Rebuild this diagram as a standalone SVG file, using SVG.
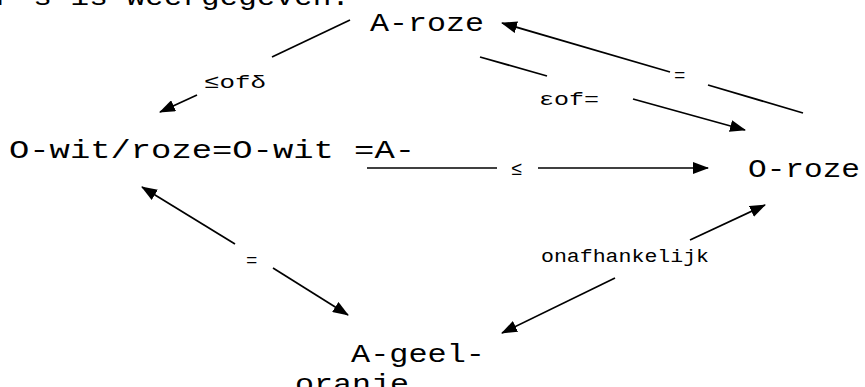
<svg xmlns="http://www.w3.org/2000/svg" width="865" height="387" viewBox="0 0 865 387">
<style>
.t{font-family:"Liberation Mono","Courier New",monospace;font-size:26px;fill:#000}
.s{font-family:"Liberation Mono","Courier New",monospace;font-size:19px;fill:#000}
.c line{stroke:#000;stroke-width:1.7}
</style>
<defs>
<marker id="ah" markerUnits="userSpaceOnUse" markerWidth="16" markerHeight="12" refX="15" refY="6" orient="auto">
<path d="M0,0 L16,6 L0,12 z" fill="#000"/>
</marker>
</defs>
<text class="t" x="-4" y="5" textLength="354" lengthAdjust="spacingAndGlyphs">P's is weergegeven.</text>
<g id="a-roze"><text class="t" x="370" y="31" textLength="114" lengthAdjust="spacingAndGlyphs">A-roze</text></g>
<g id="o-wit"><text class="t" x="9" y="158" textLength="406" lengthAdjust="spacingAndGlyphs">O-wit/roze=O-wit =A-</text></g>
<g id="o-roze"><text class="t" x="748" y="177" textLength="112" lengthAdjust="spacingAndGlyphs">O-roze</text></g>
<g id="a-geel"><text class="t" x="351" y="362" textLength="134" lengthAdjust="spacingAndGlyphs">A-geel-</text>
<text class="t" x="295" y="392" textLength="114" lengthAdjust="spacingAndGlyphs">oranje</text></g>
<g id="connectors" class="c">
<line x1="350" y1="20" x2="272" y2="57"/>
<line x1="197" y1="95" x2="160" y2="112" marker-end="url(#ah)"/>
<line x1="803" y1="113" x2="708" y2="85"/>
<line x1="670" y1="72" x2="502" y2="23" marker-end="url(#ah)"/>
<line x1="480" y1="57" x2="547" y2="76"/>
<line x1="633" y1="99" x2="745" y2="130" marker-end="url(#ah)"/>
<line x1="367" y1="168" x2="497" y2="168"/>
<line x1="538" y1="168" x2="708" y2="168" marker-end="url(#ah)"/>
<line x1="235" y1="244" x2="142" y2="187" marker-end="url(#ah)"/>
<line x1="273" y1="268" x2="348" y2="315" marker-end="url(#ah)"/>
<line x1="690" y1="240" x2="765" y2="205" marker-end="url(#ah)"/>
<line x1="615" y1="278" x2="502" y2="333" marker-end="url(#ah)"/>
<text class="s" x="204" y="88" textLength="62" lengthAdjust="spacingAndGlyphs">≤ofδ</text>
<text class="s" x="539" y="105" textLength="60" lengthAdjust="spacingAndGlyphs">εof=</text>
<text class="s" x="674" y="81">=</text>
<text class="s" x="511" y="175">≤</text>
<text class="s" x="246" y="266">=</text>
<text class="s" x="541" y="262" textLength="168" lengthAdjust="spacingAndGlyphs">onafhankelijk</text>
</g>
</svg>
